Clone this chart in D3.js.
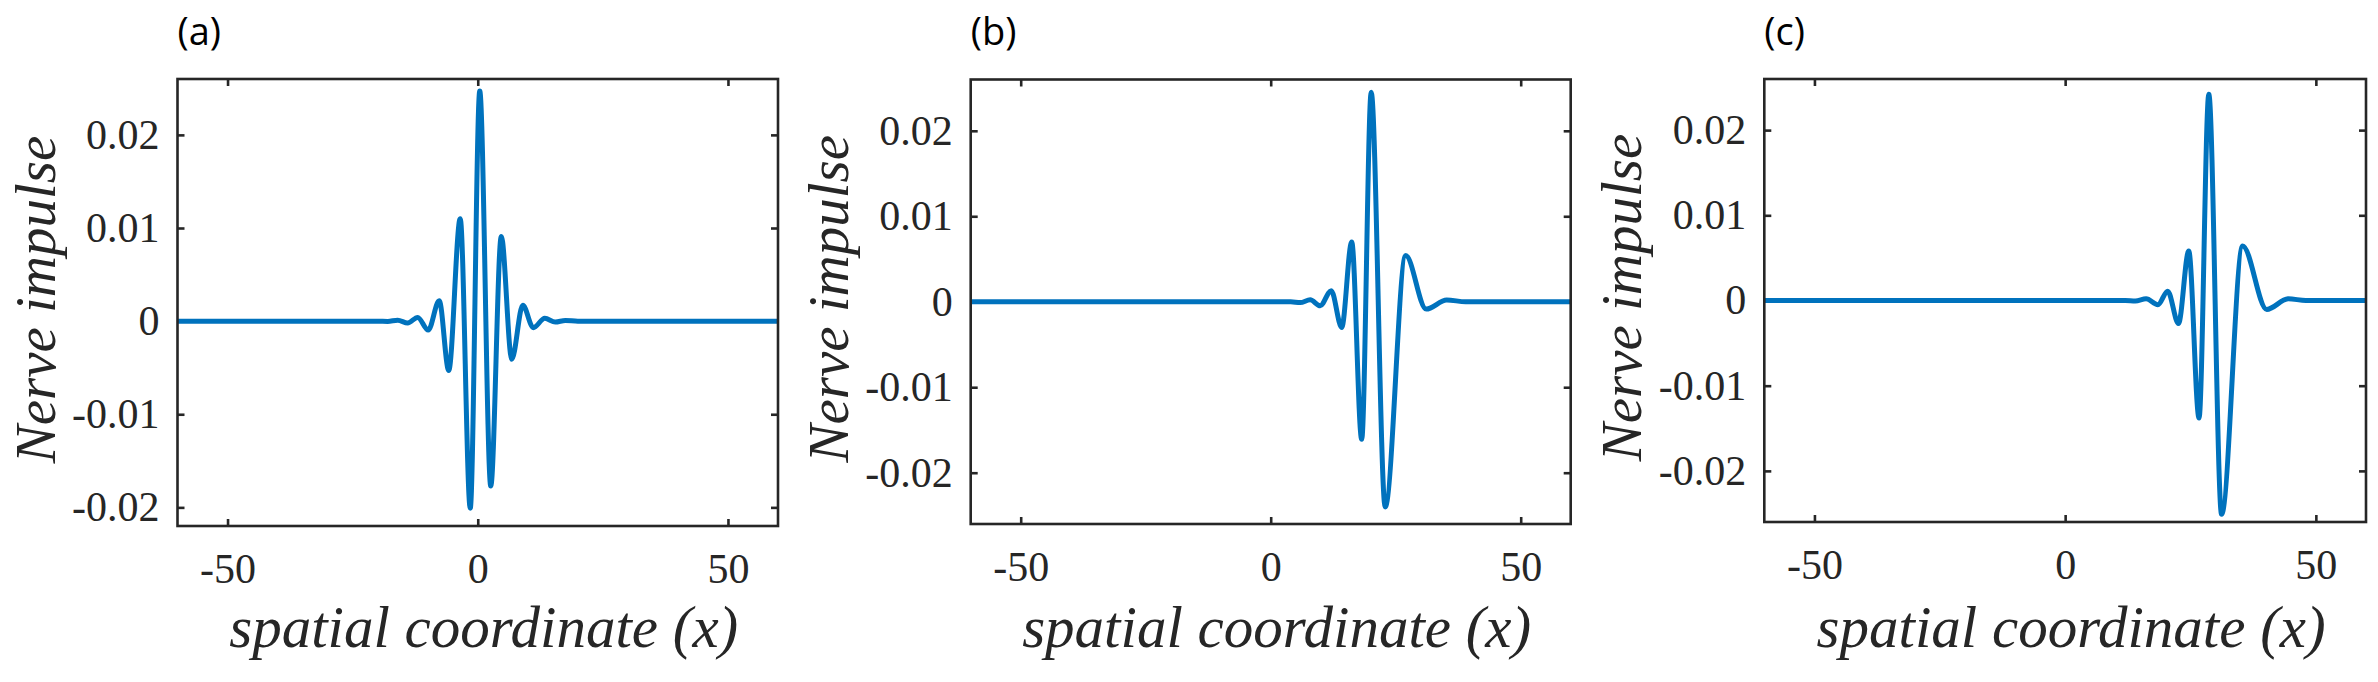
<!DOCTYPE html>
<html>
<head>
<meta charset="utf-8">
<script src="https://cdn.jsdelivr.net/npm/d3@7"></script>
<style>
  body { margin: 0; background: #fff; }
  svg { display: block; }
</style>
</head>
<body>
<div id="chart"></div>
<script>
// tick values and panel tags
const xTicks = [-50, 0, 50];
const yTicks = [-0.02, -0.01, 0, 0.01, 0.02];
const panelLabels = ["(a)", "(b)", "(c)"];
const xDomain = [-60, 60];
const yDomains = [[-0.022, 0.026], [-0.026, 0.026], [-0.026, 0.026]];

// panel (a): extrema of the pulse
const xA = [-60, -20, -18, -16, -14, -12, -9.9, -7.7, -5.8, -3.5, -1.5, 0.4, 2.6, 4.7, 6.8, 9.0, 11.1, 13.4, 15.5, 17.5, 20, 60];
const yA = [0, 0, -0.00003, 0.0001, -0.0002, 0.0004, -0.00096, 0.0022, -0.0053, 0.0110, -0.0201, 0.0247, -0.0177, 0.0091, -0.0041, 0.0017, -0.0007, 0.0003, -0.0001, 0.00008, 0, 0];

// panel (b)
const xB = [-60, 4, 5.9, 7.9, 9.9, 12.1, 14.2, 16.2, 18.2, 20.1, 22.9, 27.0, 31.1, 35.2, 39, 60];
const yB = [0, 0, -0.0001, 0.00023, -0.00047, 0.0013, -0.0030, 0.0070, -0.0161, 0.0245, -0.0240, 0.0054, -0.00086, 0.0002, 0, 0];

// panel (c)
const xC = [-60, 12, 14, 16.15, 18.5, 20.45, 22.6, 24.65, 26.7, 28.65, 31.2, 35.4, 40.2, 44.5, 48, 60];
const yC = [0, 0, -0.00005, 0.0002, -0.0005, 0.0011, -0.0027, 0.0058, -0.0138, 0.0242, -0.0251, 0.0064, -0.00105, 0.0002, 0, 0];

const series = [[xA, yA], [xB, yB], [xC, yC]];

const W = 2378, H = 682;
const axisColor = "#262626";
const lineColor = "#0072BD";
const serif = "'Liberation Serif', 'Times New Roman', Times, serif";

const svg = d3.select("#chart")
  .append("svg")
  .attr("width", W)
  .attr("height", H);

// plot boxes in pixels
const boxes = [
  { left: 177.5, right: 778, top: 79, bottom: 526 },
  { left: 970.7, right: 1570.7, top: 79.5, bottom: 524 },
  { left: 1764.3, right: 2366, top: 79, bottom: 522 }
];

const fmtY = d => d === 0 ? "0" : d.toFixed(2);
const fmtX = d => String(d);

function styleAxis(g) {
  g.select(".domain").remove();
  g.selectAll("line").attr("stroke", axisColor).attr("stroke-width", 2.6);
  g.selectAll("text")
    .attr("fill", axisColor)
    .style("font-family", serif)
    .style("font-size", "42px");
}

boxes.forEach((b, i) => {
  const x = d3.scaleLinear().domain(xDomain).range([b.left, b.right]);
  const y = d3.scaleLinear().domain(yDomains[i]).range([b.bottom, b.top]);
  const g = svg.append("g");

  // axes (ticks inward, mirrored on top and right)
  g.append("g")
    .attr("transform", `translate(0,${b.bottom})`)
    .call(d3.axisBottom(x).tickValues(xTicks).tickFormat(fmtX)
      .tickSizeInner(-7).tickSizeOuter(0).tickPadding(27))
    .call(styleAxis);

  g.append("g")
    .attr("transform", `translate(0,${b.top})`)
    .call(d3.axisTop(x).tickValues(xTicks).tickFormat(() => "")
      .tickSizeInner(-7).tickSizeOuter(0))
    .call(styleAxis);

  g.append("g")
    .attr("transform", `translate(${b.left},0)`)
    .call(d3.axisLeft(y).tickValues(yTicks).tickFormat(fmtY)
      .tickSizeInner(-7).tickSizeOuter(0).tickPadding(18))
    .call(styleAxis);

  g.append("g")
    .attr("transform", `translate(${b.right},0)`)
    .call(d3.axisRight(y).tickValues(yTicks).tickFormat(() => "")
      .tickSizeInner(-7).tickSizeOuter(0))
    .call(styleAxis);

  // the pulse
  const pts = series[i][0].map((v, j) => [v, series[i][1][j]]);
  g.append("path")
    .datum(pts)
    .attr("fill", "none")
    .attr("stroke", lineColor)
    .attr("stroke-width", 5)
    .attr("stroke-linejoin", "round")
    .attr("d", d3.line()
      .x(d => x(d[0]))
      .y(d => y(d[1]))
      .curve(d3.curveMonotoneX));

  // box
  g.append("rect")
    .attr("x", b.left)
    .attr("y", b.top)
    .attr("width", b.right - b.left)
    .attr("height", b.bottom - b.top)
    .attr("fill", "none")
    .attr("stroke", axisColor)
    .attr("stroke-width", 2.6);

  // axis titles
  g.append("text")
    .attr("x", (b.left + b.right) / 2 + 6)
    .attr("y", 647)
    .attr("text-anchor", "middle")
    .style("font-family", serif)
    .style("font-style", "italic")
    .style("font-size", "59px")
    .attr("fill", axisColor)
    .text("spatial coordinate (x)");

  g.append("text")
    .attr("transform", `translate(${b.left - 123},${(b.top + b.bottom) / 2 - 3}) rotate(-90)`)
    .attr("text-anchor", "middle")
    .style("font-family", serif)
    .style("font-style", "italic")
    .style("font-size", "57px")
    .attr("fill", axisColor)
    .text("Nerve impulse");

  // panel tag
  g.append("text")
    .attr("x", b.left)
    .attr("y", 45)
    .style("font-family", "'Open Sans', 'Noto Sans', sans-serif")
    .style("font-size", "38px")
    .attr("fill", "#000")
    .text(panelLabels[i]);
});
</script>
</body>
</html>
